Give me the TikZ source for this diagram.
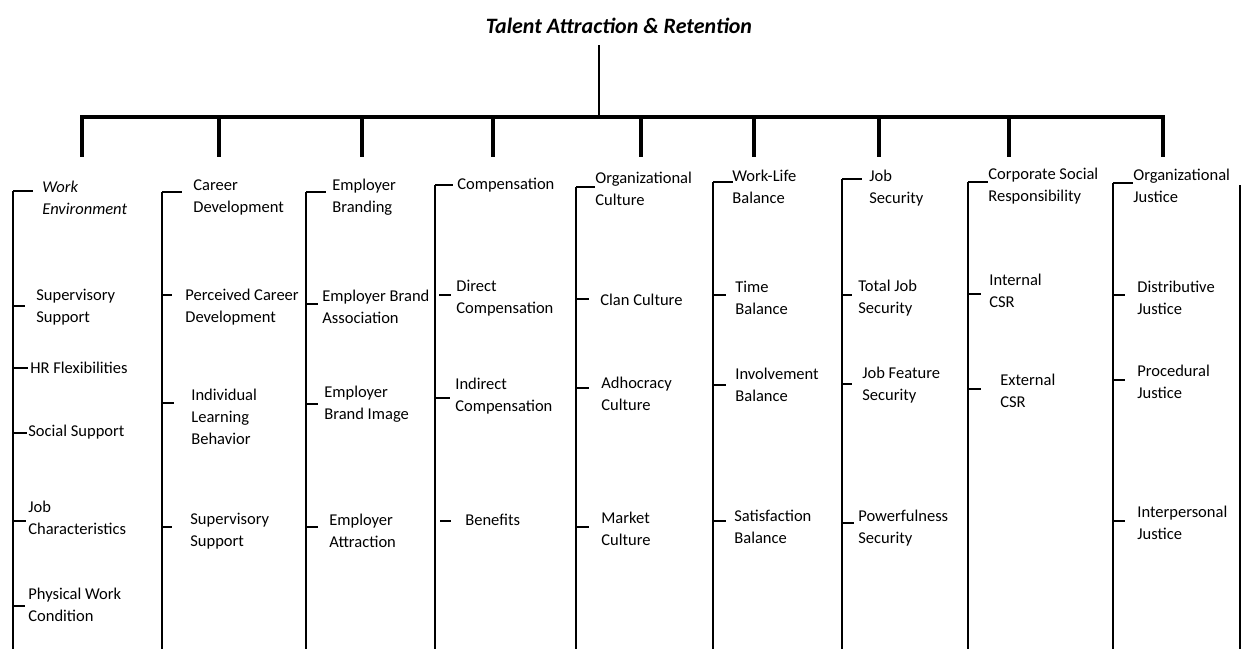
\documentclass[tikz,border=0pt]{standalone}
\usepackage{fontspec}
\setmainfont{Carlito}
\usepackage{tikz}
\usetikzlibrary{calc}

\begin{document}
\begin{tikzpicture}[x=0.02cm,y=-0.02cm,
  title/.style={font=\fontsize{12.5}{15}\selectfont\bfseries\itshape,inner sep=0},
  item/.style={anchor=west,align=left,inner sep=0,font=\fontsize{9.4}{12.5}\selectfont},
  stem/.style={line width=1.1pt},
  bar/.style={line width=1.9pt},
  drop/.style={line width=2.8pt},
  col/.style={line width=1.6pt},
  tick/.style={line width=1.6pt}]
\useasboundingbox (0,0) rectangle (1247,649);

% root and bar
\node[title] (root) at (619,26) {Talent Attraction \& Retention};
\coordinate (stemtop) at (599,45);
\coordinate (barL) at (80,117);
\coordinate (barR) at (1165,117);
\draw[stem] (stemtop) -- (stemtop |- barL);
\draw[bar] (barL) -- (barR);
\draw[drop] (82,117) -- (82,157);
\draw[drop] (219,117) -- (219,157);
\draw[drop] (362,117) -- (362,157);
\draw[drop] (493,117) -- (493,157);
\draw[drop] (641,117) -- (641,157);
\draw[drop] (754,117) -- (754,157);
\draw[drop] (879,117) -- (879,157);
\draw[drop] (1009,117) -- (1009,157);
\draw[drop] (1163,117) -- (1163,157);

% column lines
\coordinate (c1) at (13,191);
\coordinate (c2) at (162,192);
\coordinate (c3) at (306,192);
\coordinate (c4) at (435,185);
\coordinate (c5) at (576,187);
\coordinate (c6) at (713,182);
\coordinate (c7) at (842,179);
\coordinate (c8) at (968,182);
\coordinate (c9) at (1113,183);
\coordinate (c10) at (1240,185);
\draw[col] (c1) -- (c1 |- 0,649);
\draw[col] (c2) -- (c2 |- 0,649);
\draw[col] (c3) -- (c3 |- 0,649);
\draw[col] (c4) -- (c4 |- 0,649);
\draw[col] (c5) -- (c5 |- 0,649);
\draw[col] (c6) -- (c6 |- 0,649);
\draw[col] (c7) -- (c7 |- 0,649);
\draw[col] (c8) -- (c8 |- 0,649);
\draw[col] (c9) -- (c9 |- 0,649);
\draw[col] (c10) -- (c10 |- 0,649);

% work environment
\node[item,font=\fontsize{9.4}{12.5}\selectfont\itshape] (we) at (42,197.5) {Work\\Environment};
\draw[tick] (c1) -- ++(20,0);
\node[item] (we1) at (36,307) {Supervisory\\Support};
\draw[tick] (c1 |- 0,306) -- ++(12,0);
\node[item] (we2) at (30,368) {HR Flexibilities};
\draw[tick] (c1 |- 0,368) -- ++(15,0);
\node[item] (we3) at (28,432) {Social Support};
\draw[tick] (c1 |- 0,433) -- ++(14,0);
\node[item] (we4) at (28,518) {Job\\Characteristics};
\draw[tick] (c1 |- 0,521) -- ++(13,0);
\node[item] (we5) at (28,605) {Physical Work\\Condition};
\draw[tick] (c1 |- 0,606) -- ++(12,0);

% career development
\node[item] (cd) at (193,197.5) {Career\\Development};
\draw[tick] (c2) -- ++(20,0);
\node[item] (cd1) at (185,307) {Perceived Career\\Development};
\draw[tick] (c2 |- 0,295) -- ++(10,0);
\node[item] (cd2) at (191,416.5) {Individual\\Learning\\Behavior};
\draw[tick] (c2 |- 0,403) -- ++(12,0);
\node[item] (cd3) at (190,531) {Supervisory\\Support};
\draw[tick] (c2 |- 0,527) -- ++(10,0);

% employer branding
\node[item] (eb) at (332,197.5) {Employer\\Branding};
\draw[tick] (c3) -- ++(20,0);
\node[item] (eb1) at (322,307) {Employer Brand\\Association};
\draw[tick] (c3 |- 0,304) -- ++(12,0);
\node[item] (eb2) at (324,404.5) {Employer\\Brand Image};
\draw[tick] (c3 |- 0,404) -- ++(12,0);
\node[item] (eb3) at (329,531) {Employer\\Attraction};
\draw[tick] (c3 |- 0,527) -- ++(12,0);

% compensation
\node[item] (cp) at (457,185) {Compensation};
\draw[tick] (c4) -- ++(18,0);
\node[item] (cp1) at (456,298) {Direct\\Compensation};
\draw[tick] (439,295) -- ++(12,0);
\node[item] (cp2) at (455,396) {Indirect\\Compensation};
\draw[tick] (c4 |- 0,398) -- ++(15,0);
\node[item] (cp3) at (465,520) {Benefits};
\draw[tick] (440,521) -- ++(11,0);

% organizational culture
\node[item] (oc) at (595,188.5) {Organizational\\Culture};
\draw[tick] (c5) -- ++(19,0);
\node[item] (oc1) at (600,300) {Clan Culture};
\draw[tick] (c5 |- 0,299) -- ++(13,0);
\node[item] (oc2) at (601,393.5) {Adhocracy\\Culture};
\draw[tick] (c5 |- 0,388) -- ++(13,0);
\node[item] (oc3) at (601,528.5) {Market\\Culture};
\draw[tick] (c5 |- 0,527) -- ++(13,0);

% work-life balance
\node[item] (wl) at (732,187) {Work-Life\\Balance};
\draw[tick] (c6) -- ++(20,0);
\node[item] (wl1) at (735,298) {Time\\Balance};
\draw[tick] (c6 |- 0,295) -- ++(13,0);
\node[item] (wl2) at (735,384.5) {Involvement\\Balance};
\draw[tick] (c6 |- 0,385) -- ++(13,0);
\node[item] (wl3) at (734,526.5) {Satisfaction\\Balance};
\draw[tick] (c6 |- 0,521) -- ++(13,0);

% job security
\node[item] (js) at (869,188.5) {Job\\Security};
\draw[tick] (c7) -- ++(20,0);
\node[item] (js1) at (858,298) {Total Job\\Security};
\draw[tick] (c7 |- 0,295) -- ++(10,0);
\node[item] (js2) at (862,385) {Job Feature\\Security};
\draw[tick] (c7 |- 0,384) -- ++(10,0);
\node[item] (js3) at (858,528) {Powerfulness\\Security};
\draw[tick] (c7 |- 0,523) -- ++(12,0);

% corporate social responsibility
\node[item] (csr) at (988,186) {Corporate Social\\Responsibility};
\draw[tick] (c8) -- ++(20,0);
\node[item] (csr1) at (989,290.5) {Internal\\CSR};
\draw[tick] (c8 |- 0,294) -- ++(13,0);
\node[item] (csr2) at (1000,391) {External\\CSR};
\draw[tick] (c8 |- 0,389) -- ++(13,0);

% organizational justice
\node[item] (oj) at (1133,186) {Organizational\\Justice};
\draw[tick] (c9) -- ++(20,0);
\node[item] (oj1) at (1137,298) {Distributive\\Justice};
\draw[tick] (c9 |- 0,295) -- ++(12,0);
\node[item] (oj2) at (1137,382) {Procedural\\Justice};
\draw[tick] (c9 |- 0,380) -- ++(12,0);
\node[item] (oj3) at (1137,522.5) {Interpersonal\\Justice};
\draw[tick] (c9 |- 0,521) -- ++(12,0);

\end{tikzpicture}
\end{document}
